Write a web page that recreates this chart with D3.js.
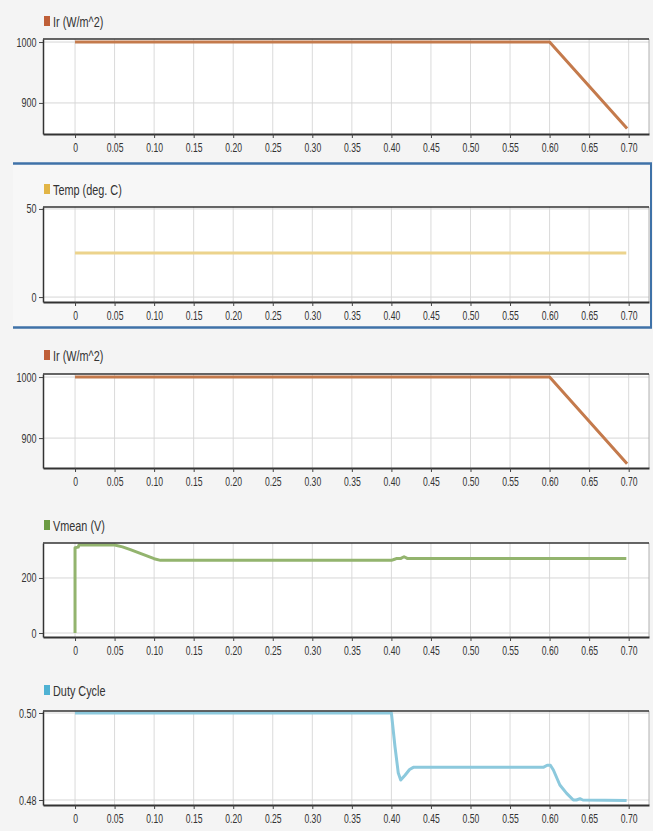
<!DOCTYPE html>
<html><head><meta charset="utf-8">
<script src="https://cdn.jsdelivr.net/npm/d3@7"></script>
<style>
html,body{margin:0;padding:0;background:#f4f4f4;}
svg{display:block;}
</style></head>
<body>
<svg id="c" width="653" height="831"></svg>
<script>
// ---- data ----
const xTicks = [0,0.05,0.10,0.15,0.20,0.25,0.30,0.35,0.40,0.45,0.50,0.55,0.60,0.65,0.70];
const xTickLabels = ["0","0.05","0.10","0.15","0.20","0.25","0.30","0.35","0.40","0.45","0.50","0.55","0.60","0.65","0.70"];

const irTime  = [0, 0.600, 0.698];
const irValue = [1000, 1000, 858];

const tempTime  = [0, 0.697];
const tempValue = [25, 25];

const vTime  = [0, 0, 0.004, 0.005, 0.050, 0.060, 0.070, 0.080, 0.090, 0.100, 0.108, 0.400, 0.404, 0.407, 0.412, 0.416, 0.420, 0.697];
const vValue = [0, 310, 312, 320, 320, 313, 303, 292, 281, 270, 264, 264, 268, 271, 271, 277, 271, 271];

const dTime  = [0, 0.400, 0.4045, 0.4087, 0.4118, 0.4172, 0.4230, 0.4277, 0.592, 0.597, 0.601, 0.6048, 0.613, 0.6216, 0.630, 0.634, 0.6384, 0.642, 0.6974];
const dValue = [0.500, 0.500, 0.4923, 0.4862, 0.4846, 0.4857, 0.4870, 0.4875, 0.4875, 0.4880, 0.4880, 0.4869, 0.48345, 0.48153, 0.4800, 0.4800, 0.4803, 0.4800, 0.4799];

const panelTitles = ["Ir (W/m^2)", "Temp (deg. C)", "Ir (W/m^2)", "Vmean (V)", "Duty Cycle"];
const yTicksIr = [900, 1000];
const yTicksTemp = [0, 50];
const yTicksV = [0, 200];
const yTicksD = [0.48, 0.50];
const yLabelsIr = ["900","1000"];
const yLabelsTemp = ["0","50"];
const yLabelsV = ["0","200"];
const yLabelsD = ["0.48","0.50"];

// ---- layout ----
const svg = d3.select("#c");
const X0 = 43, X1 = 649;
const x = d3.scaleLinear().domain([-0.0405, 0.7257]).range([X0, X1]);

const panels = [
  {t:irTime, v:irValue, title:panelTitles[0], yt:yTicksIr, yl:yLabelsIr, dom:[849,1005], y0:39, y1:134, lb:27, line:"#c47a4c", sw:"#bf5f38"},
  {t:tempTime, v:tempValue, title:panelTitles[1], yt:yTicksTemp, yl:yLabelsTemp, dom:[-2.8,51.1], y0:207, y1:302, lb:195, line:"#ecd38c", sw:"#e2b546"},
  {t:irTime, v:irValue, title:panelTitles[2], yt:yTicksIr, yl:yLabelsIr, dom:[851,1005], y0:374, y1:468, lb:361, line:"#c47a4c", sw:"#bf5f38"},
  {t:vTime, v:vValue, title:panelTitles[3], yt:yTicksV, yl:yLabelsV, dom:[-14.5,327], y0:543, y1:637, lb:531, line:"#93b46e", sw:"#6b9b43"},
  {t:dTime, v:dValue, title:panelTitles[4], yt:yTicksD, yl:yLabelsD, dom:[0.47885,0.50046], y0:711, y1:805, lb:696, line:"#8cc9dd", sw:"#4fb2d3"}
];

// blue frame around second panel
svg.append("rect").attr("x",13).attr("y",163).attr("width",638).attr("height",165).attr("fill","#f7f7f7");
const blue = "#3f72a8";
svg.append("line").attr("x1",13).attr("x2",652).attr("y1",163.5).attr("y2",163.5).attr("stroke",blue).attr("stroke-width",2.5);
svg.append("line").attr("x1",13).attr("x2",652).attr("y1",327.5).attr("y2",327.5).attr("stroke",blue).attr("stroke-width",2.5);
svg.append("line").attr("x1",651).attr("x2",651).attr("y1",163).attr("y2",328).attr("stroke",blue).attr("stroke-width",2);

const FONT = "'Liberation Sans',Arial,sans-serif";
const SX = 0.69, SY = 0.72, SL = 0.75;

panels.forEach(p => {
  const y = d3.scaleLinear().domain(p.dom).range([p.y1, p.y0]);
  const g = svg.append("g");
  g.append("rect").attr("x",X0).attr("y",p.y0).attr("width",X1-X0).attr("height",p.y1-p.y0).attr("fill","#fff");
  // grid
  g.append("g").selectAll("line").data(xTicks).join("line")
    .attr("x1",d=>x(d)).attr("x2",d=>x(d)).attr("y1",p.y0).attr("y2",p.y1)
    .attr("stroke","#dadada").attr("stroke-width",1);
  g.append("g").selectAll("line").data(p.yt).join("line")
    .attr("x1",X0).attr("x2",X1).attr("y1",d=>y(d)).attr("y2",d=>y(d))
    .attr("stroke","#d6d6d6").attr("stroke-width",1);
  // line
  const line = d3.line().x((d,i)=>x(p.t[i])).y(d=>y(d));
  g.append("path").datum(p.v).attr("d",line).attr("fill","none")
    .attr("stroke",p.line).attr("stroke-width",3).attr("stroke-linejoin","round");
  // frame
  g.append("line").attr("x1",X1).attr("x2",X1).attr("y1",p.y0).attr("y2",p.y1).attr("stroke","#b0b0b0").attr("stroke-width",1);
  g.append("line").attr("x1",X0).attr("x2",X1).attr("y1",p.y0).attr("y2",p.y0).attr("stroke","#333").attr("stroke-width",1.5);
  // axes
  const xa = d3.axisBottom(x).tickValues(xTicks).tickFormat((d,i)=>xTickLabels[i]).tickSize(4).tickPadding(5).tickSizeOuter(0);
  const gx = g.append("g").attr("transform",`translate(0,${p.y1})`).call(xa);
  gx.select(".domain").attr("stroke","#333").attr("stroke-width",2);
  gx.selectAll(".tick line").attr("stroke","#444");
  gx.selectAll("text").attr("font-family",FONT).attr("font-size",12.5).attr("fill","#333")
    .attr("transform",`scale(${SX},1)`);
  const ya = d3.axisLeft(y).tickValues(p.yt).tickFormat((d,i)=>p.yl[i]).tickSize(4).tickPadding(2).tickSizeOuter(0);
  const gy = g.append("g").attr("transform",`translate(${X0},0)`).call(ya);
  gy.select(".domain").attr("stroke","#333").attr("stroke-width",1.5);
  gy.selectAll(".tick line").attr("stroke","#444");
  gy.selectAll("text").attr("font-family",FONT).attr("font-size",12.5).attr("fill","#333")
    .attr("x",-6.5/SY).attr("transform",`scale(${SY},1)`);
  // legend
  g.append("rect").attr("x",44).attr("y",p.lb-11).attr("width",6).attr("height",10).attr("fill",p.sw);
  g.append("text").attr("transform",`translate(53,${p.lb}) scale(${SL},1)`)
    .attr("font-family",FONT).attr("font-size",14.5).attr("fill","#333").text(p.title);
});
</script>
</body></html>
